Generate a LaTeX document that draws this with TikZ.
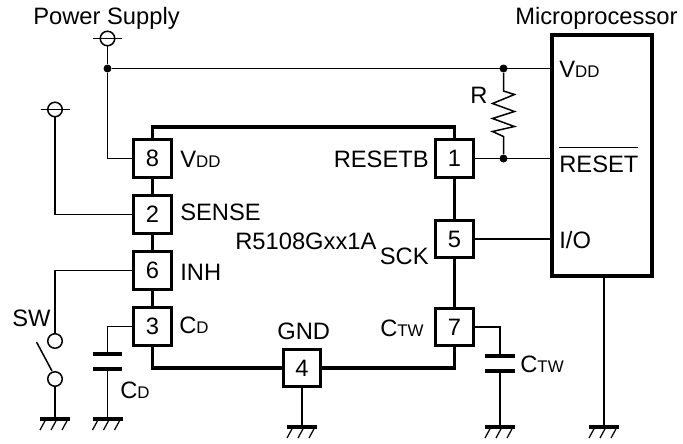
\documentclass[tikz,border=0pt]{standalone}
\usepackage{amsmath}
\usepackage{fontspec}
\setmainfont{Liberation Sans}
\newcommand{\lowcap}[1]{{\fontsize{9.6}{10}\selectfont #1}}
\tikzset{
	pin/.style={shape=rectangle,draw=black,line width=1.5pt,fill=white,minimum size=0.75cm,inner sep=0pt},
	lbl/.style={inner sep=0pt,anchor=base west},
	lblr/.style={inner sep=0pt,anchor=base east},
	wire/.style={-,line width=0.85pt},
	body/.style={-,line width=2pt},
	plate/.style={-,line width=2.3pt},
	dot/.style={shape=circle,fill=black,inner sep=0pt,minimum size=0.16cm},
	ring/.style={shape=circle,draw=black,line width=0.85pt,fill=white,inner sep=0pt,minimum size=0.29cm},
	gnd/.pic={
		\draw[line width=1.9pt] (-15,0) -- (15,0);
		\draw[line width=0.7pt] (-9,0) -- (-15,11);
		\draw[line width=0.7pt] (2,0) -- (-4,11);
		\draw[line width=0.7pt] (13,0) -- (7,11);
	}
}
\begin{document}
\begin{tikzpicture}[x=0.02cm,y=-0.02cm,font=\fontsize{13.5}{16}\selectfont]
	\useasboundingbox (0,0) rectangle (683,443);
	
	% pins of the IC
	\node[pin] (p8) at (152.5, 158.5) {8};
	\node[pin] (p2) at (152.5, 214.5) {2};
	\node[pin] (p6) at (152.5, 270.5) {6};
	\node[pin] (p3) at (152.5, 326.5) {3};
	\node[pin] (p4) at (302, 368)     {4};
	\node[pin] (p1) at (454.5, 158.5) {1};
	\node[pin] (p5) at (454.5, 239)   {5};
	\node[pin] (p7) at (454.5, 327)   {7};
	\node[shape=rectangle,draw=black,line width=1.8pt,minimum width=2cm,minimum height=4.82cm] (mcu) at (602, 155.5) {};
	
	% corners and free ends
	\coordinate (bodytop) at (303, 127);
	\coordinate (vddmcu) at (mcu.west |- 0,68.5);
	\coordinate (rstmcu) at (mcu.west |- p1);
	\coordinate (iomcu) at (mcu.west |- p5);
	\coordinate (gsw) at (55, 419);
	\coordinate (gcd) at (107.5, 419);
	\coordinate (g4) at (302, 427);
	\coordinate (gctw) at (500, 427);
	\coordinate (gmcu) at (604, 427);
	
	% supply symbols and junctions
	\node[ring] (supa) at (107.5, 38.5) {};
	\node[ring] (supb) at (55, 109.5) {};
	\coordinate (supal) at (93, 38.5);
	\coordinate (supar) at (122, 38.5);
	\coordinate (supbl) at (40.5, 109.5);
	\coordinate (supbr) at (70, 109.5);
	\node[dot] (ja) at (107.5, 68.5) {};
	\node[dot] (jb) at (503.5, 68.5) {};
	\node[dot] (jc) at (503.5, 158.5) {};
	
	% switch
	\node[ring] (swa) at (55, 341) {};
	\node[ring] (swb) at (55, 379) {};
	\coordinate (leva) at (36.5, 342);
	\coordinate (levb) at (52, 371);
	
	% capacitors
	\coordinate (cdl) at (107.5, 354);
	\coordinate (cdm) at (107.5, 369);
	\coordinate (cdla) at (93, 354);
	\coordinate (cdlb) at (122, 354);
	\coordinate (cdma) at (93, 369);
	\coordinate (cdmb) at (122, 369);
	\coordinate (ctl) at (500, 356);
	\coordinate (ctm) at (500, 371);
	\coordinate (ctla) at (485, 356);
	\coordinate (ctlb) at (514.5, 356);
	\coordinate (ctma) at (485, 371);
	\coordinate (ctmb) at (514.5, 371);
	
	% IC outline
	\path[body] (p8) edge (p2);
	\path[body] (p2) edge (p6);
	\path[body] (p6) edge (p3);
	\path[body] (p1) edge (p5);
	\path[body] (p5) edge (p7);
	\draw[body] (p8.north) |- (bodytop) -| (p1.north);
	\draw[body] (p3.south) |- (p4.west);
	\draw[body] (p4.east) -| (p7.south);
	
	% wires
	\path[wire] (supa) edge (ja);
	\draw[wire] (ja) |- (p8.west);
	\path[wire] (ja) edge (vddmcu);
	\path[wire] (supal) edge (supar);
	\path[wire] (supbl) edge (supbr);
	\draw[wire] (supb) |- (p2.west);
	\draw[wire] (swa) |- (p6.west);
	\path[wire] (leva) edge (levb);
	\path[wire] (swb) edge (gsw);
	\draw[wire] (cdl) |- (p3.west);
	\path[wire] (cdm) edge (gcd);
	\draw[wire] (ctl) |- (p7.east);
	\path[wire] (ctm) edge (gctw);
	\path[wire] (p4) edge (g4);
	\path[wire] (p1) edge (rstmcu);
	\path[wire] (p5) edge (iomcu);
	\path[wire] (mcu.south -| gmcu) edge (gmcu);
	\draw[wire,line join=miter] (jb) -- ++(0,22.5) -- ++(11,3.5) -- ++(-22,9) -- ++(22,8) -- ++(-22,7) -- ++(22,8) -- ++(-22,5) -- ++(11,5) -- (jc);
	
	% capacitor plates
	\path[plate] (cdla) edge (cdlb);
	\path[plate] (cdma) edge (cdmb);
	\path[plate] (ctla) edge (ctlb);
	\path[plate] (ctma) edge (ctmb);
	
	% grounds
	\pic at (gsw) {gnd};
	\pic at (gcd) {gnd};
	\pic at (g4) {gnd};
	\pic at (gctw) {gnd};
	\pic at (gmcu) {gnd};
	
	% labels
	\node[lbl] (tpow) at (33, 24) {Power Supply};
	\node[lbl] (tmic) at (515, 24) {Microprocessor};
	\node[lbl] (tvdd) at (180, 167) {V\lowcap{DD}};
	\node[lbl] (tsen) at (180, 220) {SENSE};
	\node[lbl] (tinh) at (180, 280) {INH};
	\node[lbl] (tcd) at (179, 333) {C\lowcap{D}};
	\node[lbl] (tgnd) at (277, 339) {GND};
	\node[lbl] (tic) at (235, 249) {R5108Gxx1A};
	\node[lblr] (trst) at (429, 167) {RESETB};
	\node[lblr] (tsck) at (429, 264) {SCK};
	\node[lblr] (tctw) at (424, 336) {C\lowcap{TW}};
	\node[lbl] (tr) at (470, 103) {R};
	\node[lbl] (tsw) at (12, 326) {SW};
	\node[lbl] (tcdo) at (120, 398) {C\lowcap{D}};
	\node[lbl] (tcto) at (520, 372) {C\lowcap{TW}};
	\node[lbl] (tmv) at (559, 77) {V\lowcap{DD}};
	\node[lbl] (tmr) at (559, 172) {$\overline{\mbox{\rule{0pt}{12pt}RESET}}$};
	\node[lbl] (tmi) at (559, 248) {I/O};
	
\end{tikzpicture}
\end{document}
